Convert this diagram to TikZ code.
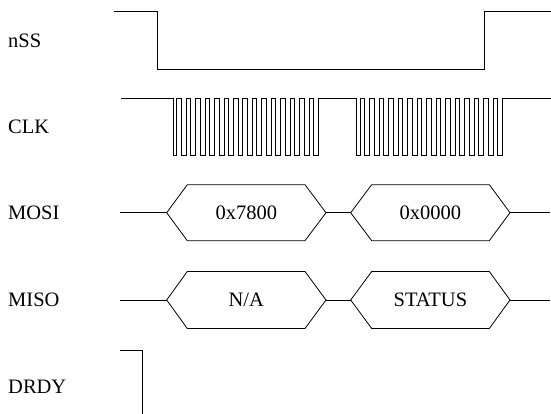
\documentclass[tikz,border=0pt]{standalone}
\usepackage{fontspec}
\setmainfont{Liberation Serif}
\begin{document}
\begin{tikzpicture}[x=1pt,y=-1pt,
  sig/.style={draw=black,line width=0.8pt,line join=miter},
  lbl/.style={anchor=west,inner sep=0pt,font=\fontsize{20.5}{24}\selectfont},
  val/.style={inner sep=0pt,font=\fontsize{20.5}{24}\selectfont}]
\useasboundingbox (0,0) rectangle (551,414);
% labels
\node[lbl] (lnss) at (8,41) {nSS};
\node[lbl] (lclk) at (8,127) {CLK};
\node[lbl] (lmosi) at (8,213) {MOSI};
\node[lbl] (lmiso) at (8,300) {MISO};
\node[lbl] (ldrdy) at (8,387) {DRDY};
% nSS
\draw[sig] (114.3,11.7) -- (157.7,11.7) -- (157.7,69) -- (484,69) -- (484,11.7) -- (551,11.7);
% CLK
\draw[sig] (121,98.3) -- (173.3,98.3) -- (173.3,155)
  foreach \k in {0,...,14} { -- ({176.7+9.45*\k},155) -- ({176.7+9.45*\k},98.3) -- ({181.2+9.45*\k},98.3) -- ({181.2+9.45*\k},155) }
  -- (318.45,155) -- (318.45,98.3) -- (356.7,98.3) -- (356.7,155)
  foreach \k in {0,...,14} { -- ({360.3+9.5*\k},155) -- ({360.3+9.5*\k},98.3) -- ({364.8+9.5*\k},98.3) -- ({364.8+9.5*\k},155) }
  -- (502.8,155) -- (502.8,98.3) -- (551,98.3);
% MOSI
\node[val] (m1) at (246.3,212.7) {0x7800};
\node[val] (m2) at (430.4,212.7) {0x0000};
\draw[sig] (120,212.7) -- (166.7,212.7);
\draw[sig] (166.7,212.7) -- (187.3,184.7) -- (305,184.7) -- (326,212.7) -- (305,240.7) -- (187.3,240.7) -- cycle;
\draw[sig] (326,212.7) -- (350.7,212.7);
\draw[sig] (350.7,212.7) -- (371.7,184.7) -- (489.3,184.7) -- (510,212.7) -- (489.3,240.7) -- (371.7,240.7) -- cycle;
\draw[sig] (510,212.7) -- (550,212.7);
% MISO
\node[val] (s1) at (246.3,300) {N/A};
\node[val] (s2) at (430.4,300) {STATUS};
\draw[sig] (120,300) -- (166.7,300);
\draw[sig] (166.7,300) -- (187.3,271.5) -- (305,271.5) -- (326,300) -- (305,328.5) -- (187.3,328.5) -- cycle;
\draw[sig] (326,300) -- (350.7,300);
\draw[sig] (350.7,300) -- (371.7,271.5) -- (489.3,271.5) -- (510,300) -- (489.3,328.5) -- (371.7,328.5) -- cycle;
\draw[sig] (510,300) -- (550,300);
% DRDY
\draw[sig] (120,350.7) -- (142.7,350.7) -- (142.7,414);
\end{tikzpicture}
\end{document}
